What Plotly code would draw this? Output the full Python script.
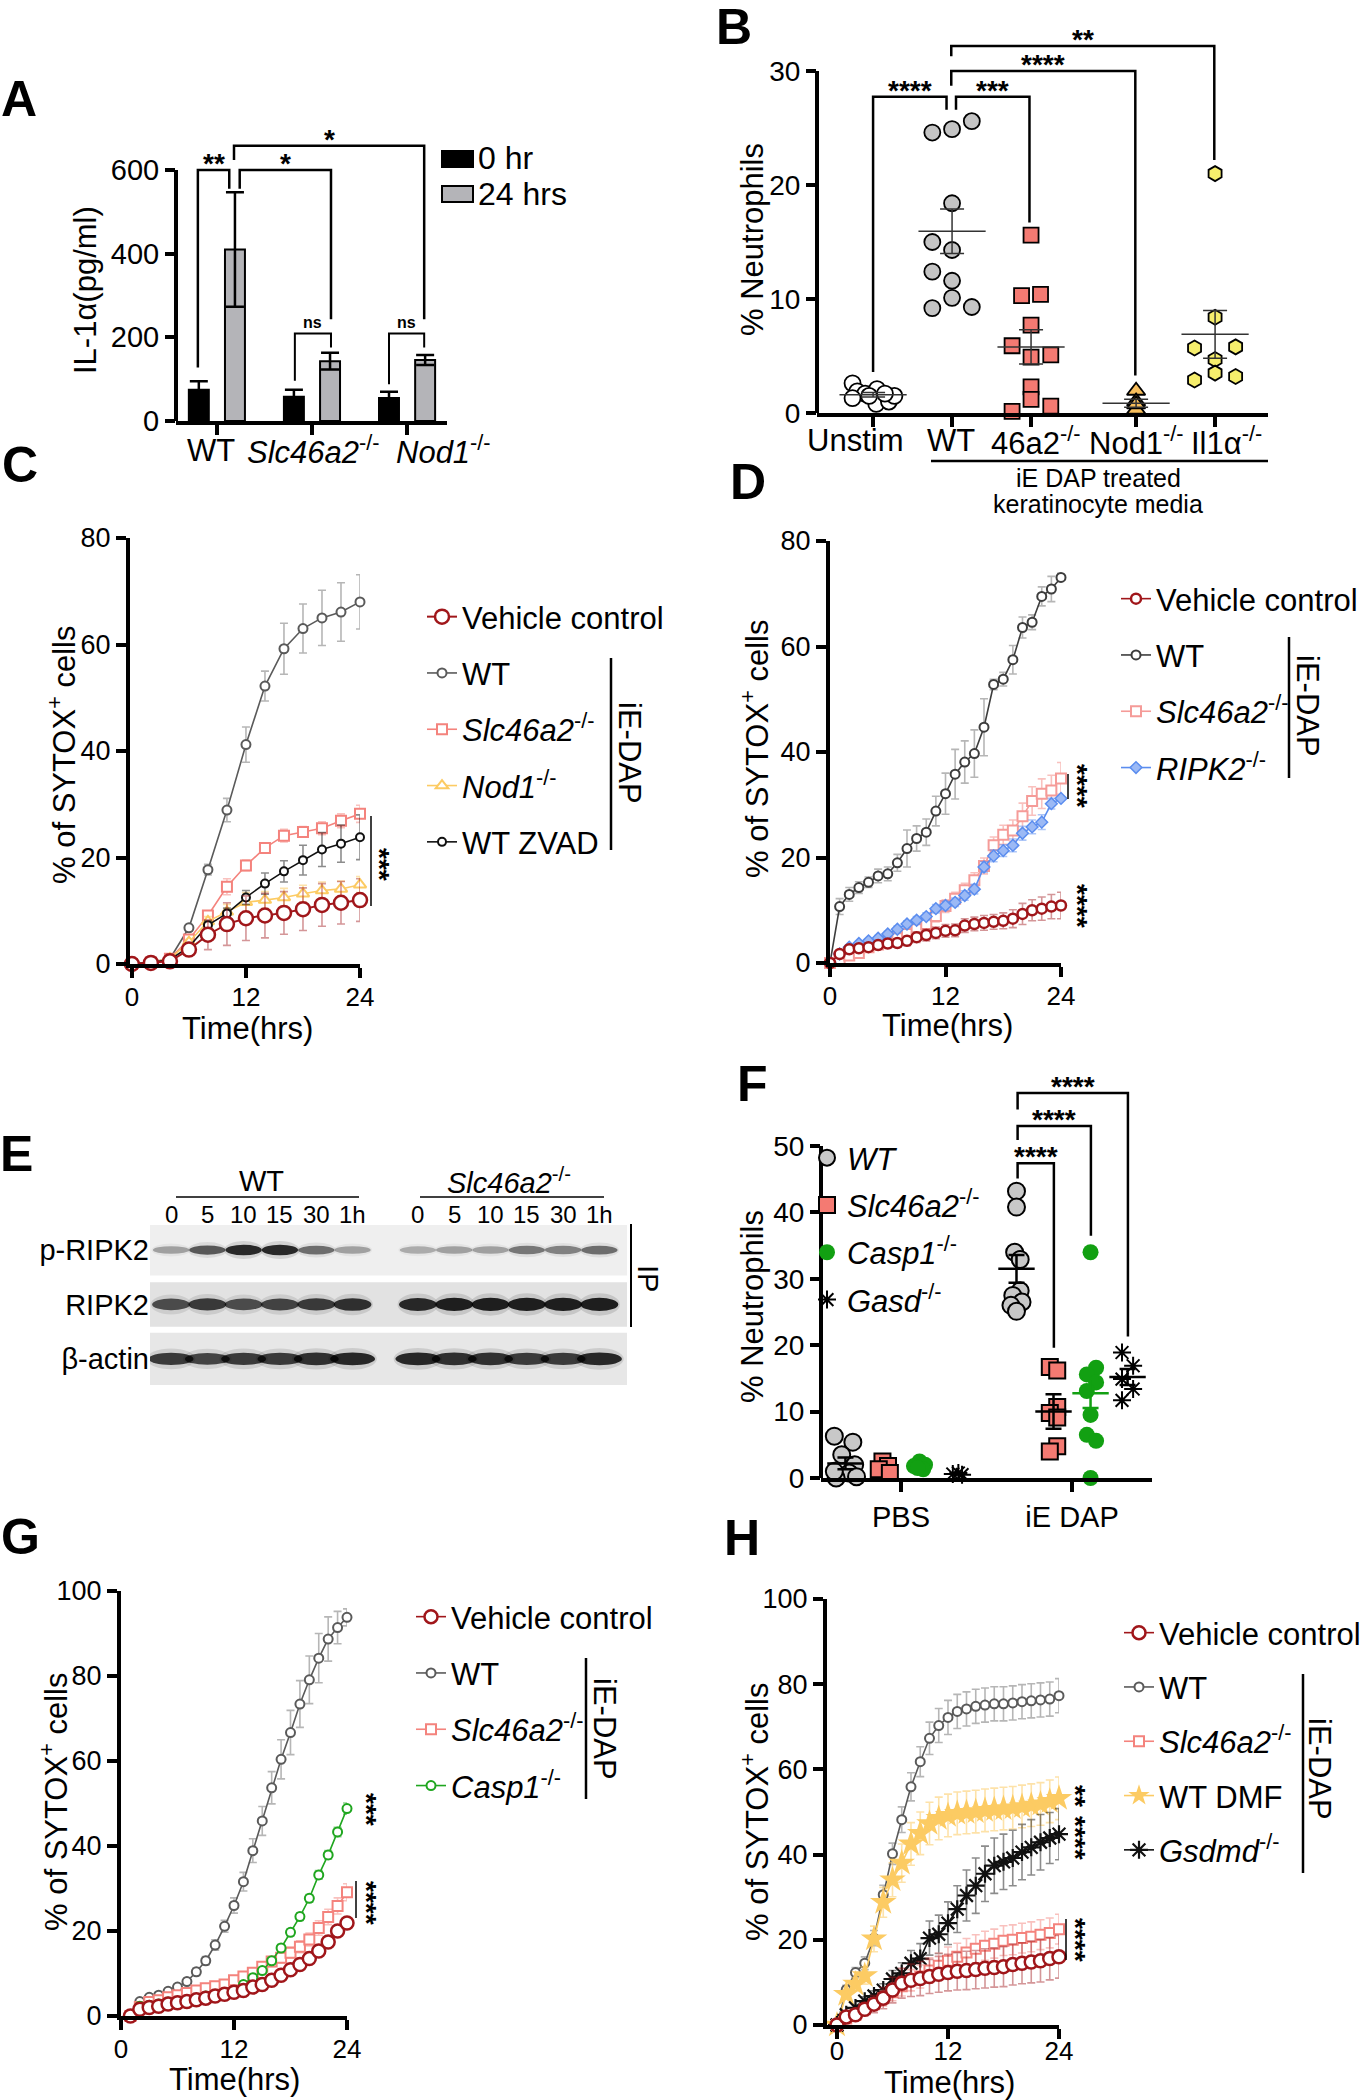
import plotly.graph_objects as go

W, H = 1360, 2100
FONT = "Liberation Sans, Arial, Helvetica, sans-serif"

# ======================= DATA =======================
# ---- Panel A : IL-1a ELISA ----
A_groups = ["WT", "<i>Slc46a2</i><sup>-/-</sup>", "<i>Nod1</i><sup>-/-</sup>"]
A_0hr = [75, 58, 55]
A_0hr_err = [20, 17, 15]
A_24hr = [410, 143, 146]
A_24hr_err = [137, 20, 12]

# ---- Panel B : % neutrophils ----
B_labels = ["Unstim", "WT", "46a2<sup>-/-</sup>", "Nod1<sup>-/-</sup>", "Il1\u03b1<sup>-/-</sup>"]
B_unstim = [2.6, 1.9, 1.7, 1.4, 2.1, 1.3, 0.8, 1.0, 1.5, 1.7, 1.5]
B_wt = [24.6, 24.9, 25.6, 18.4, 15.0, 14.3, 12.4, 11.6, 10.1, 9.2, 9.3]
B_46a2 = [15.6, 10.3, 10.4, 7.7, 5.9, 5.1, 4.9, 2.3, 1.2, 0.15, 0.6]
B_nod1 = [1.95, 1.0, 0.3, 0.75]
B_il1a = [21.0, 8.4, 5.7, 5.8, 4.7, 3.5, 2.9, 3.2]
B_mean = [1.6, 15.95, 5.8, 0.85, 6.9]
B_sem = [0.2, 1.95, 1.5, 0.35, 2.1]

# ---- Panel C : SYTOX time course (2 h steps) ----
C_t = [0, 2, 4, 6, 8, 10, 12, 14, 16, 18, 20, 22, 24]
C_vehicle = [0, 0.2, 0.5, 2.7, 5.5, 7.5, 8.6, 9.1, 9.6, 10.3, 11.1, 11.5, 12.0]
C_vehicle_err = [0.2, 0.3, 0.4, 1.2, 2.8, 4.0, 4.2, 4.2, 4.0, 4.0, 4.0, 4.0, 4.0]
C_wt = [0, 0.3, 1.0, 6.8, 17.7, 28.9, 41.2, 52.2, 59.2, 63.0, 65.0, 66.1, 68.0]
C_wt_err = [0.2, 0.3, 0.4, 0.6, 1.0, 2.2, 3.3, 2.8, 4.8, 4.6, 5.2, 5.5, 5.1]
C_slc = [0, 0.3, 1.0, 4.6, 9.1, 14.5, 18.5, 21.8, 24.1, 24.8, 25.5, 26.9, 28.2]
C_slc_err = [0.2, 0.2, 0.3, 0.6, 0.9, 1.5, 1.0, 0.9, 1.2, 1.0, 1.2, 1.3, 1.6]
C_nod1 = [0, 0.3, 1.0, 4.1, 8.0, 9.8, 11.6, 12.0, 12.5, 13.2, 13.8, 14.1, 14.9]
C_nod1_err = [0.2, 0.2, 0.3, 0.5, 0.9, 1.4, 1.8, 1.6, 1.7, 1.6, 1.6, 1.5, 1.5]
C_zvad = [0, 0.3, 0.8, 3.2, 7.3, 9.5, 12.5, 15.1, 17.4, 19.5, 21.5, 22.6, 23.8]
C_zvad_err = [0.2, 0.2, 0.3, 0.5, 0.8, 1.0, 1.3, 2.0, 2.0, 2.8, 3.2, 3.5, 4.2]

# ---- Panel D : SYTOX time course (hourly) ----
D_t = list(range(0, 25))
D_vehicle = [0, 1.7, 2.6, 2.8, 3.0, 3.4, 3.7, 3.8, 4.2, 4.9, 5.3, 5.7, 6.1, 6.2, 7.1, 7.4, 7.6, 7.8, 8.0, 8.4, 9.3, 10.0, 10.3, 10.7, 10.9]
D_vehicle_err = [0, 0.5, 0.6, 0.6, 0.7, 0.7, 0.8, 0.8, 0.9, 1.0, 1.1, 1.1, 1.2, 1.2, 1.3, 1.3, 1.4, 1.4, 1.5, 1.7, 2.0, 2.0, 2.2, 2.3, 2.5]
D_wt = [0, 10.7, 13.0, 14.3, 15.3, 16.5, 16.9, 19.0, 21.7, 23.6, 24.8, 28.8, 32.1, 35.8, 38.1, 39.7, 44.7, 52.8, 53.8, 57.5, 63.6, 64.6, 69.5, 70.9, 73.1]
D_wt_err = [0, 1.5, 1.3, 1.1, 1.0, 1.3, 1.3, 1.6, 3.5, 2.4, 2.5, 2.8, 3.9, 4.7, 4.0, 4.5, 5.4, 1.0, 1.3, 2.7, 2.0, 1.4, 1.8, 2.4, 0.8]
D_slc = [0, 0.7, 1.4, 1.9, 3.0, 3.5, 4.0, 4.7, 5.5, 6.4, 7.4, 8.9, 10.8, 12.2, 13.8, 15.7, 18.4, 22.3, 24.3, 25.1, 27.8, 30.7, 32.1, 32.7, 35.0]
D_slc_err = [0, 0.5, 0.6, 0.6, 0.6, 0.6, 0.7, 0.7, 0.8, 0.9, 1.0, 1.1, 1.2, 1.2, 1.3, 1.4, 1.5, 1.6, 1.8, 2.0, 2.5, 2.7, 2.8, 2.9, 3.0]
D_ripk2 = [0, 1.7, 3.0, 3.7, 4.2, 4.7, 5.5, 6.4, 7.4, 8.1, 8.8, 10.3, 10.9, 11.5, 12.8, 14.0, 18.2, 20.3, 21.3, 22.3, 24.6, 25.8, 26.7, 30.2, 31.2]
D_ripk2_err = [0, 0.3, 0.4, 0.4, 0.4, 0.5, 0.5, 0.6, 0.6, 0.7, 0.7, 0.8, 0.8, 0.8, 0.9, 0.9, 1.0, 1.1, 1.1, 1.2, 1.3, 1.3, 1.4, 1.0, 0.5]

# ---- Panel E : western blot band intensities (0 = none, 1 = saturated) ----
E_lane_labels = ["0", "5", "10", "15", "30", "1h", "0", "5", "10", "15", "30", "1h"]
E_rows = ["\u03b2-actin", "RIPK2", "p-RIPK2"]
E_pRIPK2 = [0.35, 0.70, 0.95, 0.95, 0.60, 0.35, 0.30, 0.35, 0.35, 0.55, 0.50, 0.60]
E_RIPK2 = [0.75, 0.85, 0.75, 0.80, 0.85, 0.90, 0.95, 1.00, 1.00, 1.00, 1.00, 1.00]
E_actin = [0.85, 0.80, 0.85, 0.85, 0.90, 0.95, 0.95, 0.90, 0.90, 0.85, 0.85, 0.95]

# ---- Panel F : % neutrophils in vivo ----
F_cats = ["PBS", "iE DAP"]
F_pbs_wt = [6.3, 5.4, 3.5, 2.0, 0.75, 0.0, 0.2, 1.0]
F_pbs_slc = [2.5, 1.8, 1.3, 0.75]
F_pbs_casp = [2.5, 2.0, 1.8, 1.3, 1.5]
F_pbs_gasd = [0.6, 0.75, 0.5]
F_ie_wt = [43.2, 40.8, 34.0, 32.9, 28.2, 27.5, 26.5, 26.0, 25.1]
F_ie_slc = [16.7, 16.2, 10.7, 9.8, 9.1, 4.8, 4.0]
F_ie_casp = [34.0, 16.6, 15.6, 14.4, 13.1, 9.5, 6.5, 5.6, 0.0]
F_ie_gasd = [18.9, 16.9, 14.9, 13.4, 11.7]
F_mean = {"pbs_wt": 2.2, "ie_wt": 31.5, "ie_slc": 10.0, "ie_casp": 12.75, "ie_gasd": 15.2}
F_sem = {"pbs_wt": 0.9, "ie_wt": 2.1, "ie_slc": 2.6, "ie_casp": 2.2, "ie_gasd": 1.2}

# ---- Panel G : SYTOX time course (t = 1..24 h) ----
G_t = list(range(1, 25))
G_vehicle = [0, 1.6, 2.0, 2.3, 2.8, 3.1, 3.4, 3.8, 4.2, 4.7, 5.1, 5.6, 6.0, 6.8, 7.4, 8.4, 9.6, 10.9, 12.1, 13.5, 15.3, 17.4, 20.0, 21.9]
G_vehicle_err = [0.2, 0.3, 0.3, 0.3, 0.3, 0.4, 0.4, 0.4, 0.4, 0.4, 0.5, 0.5, 0.5, 0.5, 0.6, 0.6, 0.6, 0.7, 0.7, 0.8, 0.8, 0.9, 0.9, 1.0]
G_wt = [0, 3.4, 4.4, 4.9, 5.8, 6.8, 8.1, 10.4, 13.0, 16.7, 21.1, 26.0, 31.6, 38.9, 45.9, 53.7, 60.4, 66.7, 73.4, 79.1, 84.2, 88.7, 91.4, 93.8]
G_wt_err = [0.2, 0.5, 0.6, 0.6, 0.7, 0.7, 0.8, 0.9, 1.0, 1.2, 1.4, 1.8, 2.2, 2.8, 3.4, 3.8, 4.6, 5.2, 5.5, 5.6, 5.8, 5.2, 3.8, 2.0]
G_slc = [0, 2.1, 3.3, 3.7, 4.4, 4.9, 5.4, 6.0, 6.5, 7.0, 7.4, 8.4, 9.3, 10.2, 11.6, 12.8, 13.7, 14.9, 16.3, 18.0, 20.7, 23.3, 25.9, 29.1]
G_slc_err = [0.2, 0.4, 0.5, 0.5, 0.6, 0.6, 0.7, 0.7, 0.8, 0.8, 0.9, 0.9, 1.0, 1.0, 1.1, 1.2, 1.2, 1.3, 1.4, 1.5, 1.7, 1.8, 1.9, 2.0]
G_casp1 = [0, 2.3, 2.5, 2.8, 3.3, 3.4, 3.7, 4.2, 4.7, 4.8, 5.1, 5.9, 7.4, 9.0, 10.7, 13.0, 16.0, 19.7, 23.4, 27.7, 33.2, 37.9, 43.3, 48.8]
G_casp1_err = [0.2, 0.3, 0.3, 0.3, 0.4, 0.4, 0.4, 0.4, 0.5, 0.5, 0.5, 0.6, 0.6, 0.6, 0.7, 0.7, 0.8, 0.8, 0.9, 0.9, 1.0, 1.0, 1.1, 1.3]

# ---- Panel H : SYTOX time course (hourly) ----
H_t = list(range(0, 25))
H_vehicle = [0, 1.9, 2.4, 3.7, 4.9, 6.3, 8.2, 9.8, 10.5, 10.9, 11.4, 11.9, 12.3, 12.6, 12.8, 13.0, 13.3, 13.5, 13.7, 14.2, 14.5, 14.8, 15.1, 15.6, 16.0]
H_vehicle_err = [0, 1.0, 1.2, 1.5, 2.0, 2.5, 3.0, 3.5, 3.8, 4.0, 4.0, 4.2, 4.3, 4.4, 4.5, 4.5, 4.6, 4.6, 4.7, 4.8, 4.8, 4.9, 5.0, 5.0, 5.0]
H_wt = [0, 8.3, 12.3, 14.5, 20.4, 30.6, 40.2, 48.2, 55.9, 61.8, 67.3, 70.3, 72.2, 73.6, 74.2, 74.8, 75.1, 75.4, 75.4, 75.6, 75.9, 76.1, 76.3, 76.5, 77.3]
H_wt_err = [0, 1.0, 1.2, 1.5, 1.8, 2.2, 2.5, 3.0, 3.3, 3.5, 3.8, 4.0, 4.0, 4.0, 4.0, 4.0, 4.0, 4.0, 4.0, 4.0, 4.0, 4.0, 4.0, 4.0, 4.0]
H_slc = [0, 1.5, 2.4, 3.7, 4.9, 6.3, 7.7, 9.1, 10.5, 11.4, 12.8, 13.9, 15.1, 16.0, 17.0, 17.9, 18.6, 19.1, 19.8, 20.0, 20.4, 20.7, 21.2, 21.6, 22.5]
H_slc_err = [0, 0.8, 1.0, 1.2, 1.5, 1.8, 2.0, 2.3, 2.5, 2.7, 3.0, 3.0, 3.2, 3.2, 3.3, 3.3, 3.4, 3.4, 3.5, 3.5, 3.5, 3.5, 3.5, 3.5, 3.5]
H_dmf = [0, 7.2, 9.6, 11.6, 20.2, 28.8, 34.1, 38.0, 42.5, 45.0, 47.3, 48.5, 49.2, 49.7, 49.9, 50.1, 50.4, 50.6, 50.8, 51.0, 51.3, 51.6, 51.9, 52.5, 53.2]
H_dmf_err = [0, 1.0, 1.5, 2.0, 3.0, 3.5, 4.0, 4.5, 5.0, 5.0, 5.0, 5.0, 5.0, 5.0, 5.0, 5.0, 5.0, 5.0, 5.0, 5.0, 5.0, 5.0, 5.0, 5.0, 5.0]
H_gsdmd = [0, 2.4, 4.0, 5.6, 6.8, 8.2, 10.8, 12.1, 14.5, 15.6, 20.4, 21.3, 23.9, 27.2, 30.4, 32.7, 35.5, 37.4, 38.3, 39.2, 40.6, 41.7, 42.9, 43.9, 44.8]
H_gsdmd_err = [0, 0.5, 0.8, 1.0, 1.2, 1.5, 2.0, 2.5, 3.0, 3.5, 4.0, 4.5, 5.0, 5.5, 6.0, 6.5, 6.5, 6.5, 6.5, 6.5, 6.5, 6.5, 6.5, 6.0, 6.0]

# ======================= STYLE / LAYOUT HELPERS =======================
RED = "#a0161a"
RED_E = "rgba(160,22,26,0.45)"
GRAY = "#5a5a5a"
GRAY_E = "rgba(110,110,110,0.5)"
SALMON = "#f4837d"
SALMON_E = "rgba(244,131,125,0.5)"
YELLOW = "#fccb63"
YELLOW_E = "rgba(252,203,99,0.55)"
BLUE = "#5b8def"
BLUE_E = "rgba(91,141,239,0.5)"
GREEN = "#1fa61f"
GREEN_E = "rgba(31,166,31,0.5)"
BLACK = "#111111"
BLACK_E = "rgba(0,0,0,0.45)"


def fx(p):
    return p / W


def fy(p):
    return 1 - p / H


fig = go.Figure()
LAY = {}
shapes = []
annotations = []

BASE_AX = dict(showgrid=False, zeroline=False, fixedrange=True, ticks="outside",
               ticklen=10, tickwidth=4, tickcolor="black", showline=True, linewidth=4,
               linecolor="black", tickangle=0, automargin=False)


def axes(n, x0, x1, ybot, ytop, xr, yr, xkw=None, ykw=None, tick=27):
    xn = "xaxis" if n == 1 else "xaxis%d" % n
    yn = "yaxis" if n == 1 else "yaxis%d" % n
    xa = dict(BASE_AX, domain=[fx(x0), fx(x1)], range=xr,
              anchor="y" if n == 1 else "y%d" % n,
              tickfont=dict(family=FONT, size=tick, color="black"))
    ya = dict(BASE_AX, domain=[fy(ybot), fy(ytop)], range=yr,
              anchor="x" if n == 1 else "x%d" % n,
              tickfont=dict(family=FONT, size=tick, color="black"))
    xa.update(xkw or {})
    ya.update(ykw or {})
    LAY[xn] = xa
    LAY[yn] = ya


def ref(n):
    return ("x", "y") if n == 1 else ("x%d" % n, "y%d" % n)


def txt(x, y, s, size=29, angle=0, xanchor="center", yanchor="middle", bold=False, color="black"):
    annotations.append(dict(x=fx(x), y=fy(y), xref="paper", yref="paper", text=s,
                            showarrow=False, textangle=angle, xanchor=xanchor, yanchor=yanchor,
                            font=dict(family=FONT, size=size, color=color,
                                      weight="bold" if bold else "normal")))


def xlab(n, xval, ypx, s, size=31):
    xr, _ = ref(n)
    annotations.append(dict(x=xval, y=fy(ypx), xref=xr, yref="paper", text=s, showarrow=False,
                            xanchor="center", yanchor="middle",
                            font=dict(family=FONT, size=size, color="black")))


def pline(x0, y0, x1, y1, w=2.5, color="black"):
    shapes.append(dict(type="line", xref="paper", yref="paper", x0=fx(x0), y0=fy(y0),
                       x1=fx(x1), y1=fy(y1), line=dict(color=color, width=w)))


def yline(n, ymax_frac):
    xr, yr = ref(n)
    shapes.append(dict(type="line", xref=xr + " domain", yref=yr + " domain", x0=0, x1=0,
                       y0=0, y1=ymax_frac, line=dict(color="black", width=4)))


def bracket(n, xa, ya_low, xb, yb_low, ytop, label, size=28, shift=-11, lw=2.5):
    xr, yr = ref(n)
    shapes.append(dict(type="path", xref=xr, yref=yr,
                       path="M %s,%s L %s,%s L %s,%s L %s,%s" % (xa, ya_low, xa, ytop, xb, ytop, xb, yb_low),
                       line=dict(color="black", width=lw)))
    annotations.append(dict(x=(xa + xb) / 2, y=ytop, xref=xr, yref=yr, text=label, showarrow=False,
                            yanchor="bottom", yshift=shift,
                            font=dict(family=FONT, size=size, color="black", weight="bold")))


def tc(n, t, y, err, name, color, ecolor, symbol, size, lw, mlw, legend, rank, fill="white"):
    xr, yr = ref(n)
    fig.add_trace(go.Scatter(
        x=t, y=y, mode="lines+markers", name=name, xaxis=xr, yaxis=yr,
        line=dict(color=color, width=lw),
        marker=dict(symbol=symbol, size=size, color=fill, line=dict(color=color, width=mlw)),
        error_y=dict(type="data", array=err, color=ecolor, thickness=1.6, width=4),
        legend=legend, legendrank=rank, legendgroup=legend + name, cliponaxis=False))


TF26 = dict(family=FONT, size=26, color="black")

# ======================= PANEL A =======================
A_top = 700
axes(1, 176, 447, 421, 421 - A_top * (251 / 600), [-0.43, 2.42], [0, A_top],
     xkw=dict(tickvals=[0, 1, 2], showticklabels=False),
     ykw=dict(showline=False, tickvals=[0, 200, 400, 600]), tick=29)
yline(1, 600 / A_top)
A_label_x = [-0.06, 1.02, 2.38]
for xv, s in zip(A_label_x, A_groups):
    xlab(1, xv, 450, s, size=31)
A_off = 0.19
fig.add_trace(go.Bar(x=[i - A_off for i in range(3)], y=A_0hr, width=0.21, name="0 hr",
                     marker=dict(color="black", line=dict(color="black", width=2)),
                     error_y=dict(type="data", array=A_0hr_err, color="black", thickness=2.5, width=9),
                     xaxis="x", yaxis="y", showlegend=False))
fig.add_trace(go.Bar(x=[i + A_off for i in range(3)], y=A_24hr, width=0.21, name="24 hrs",
                     marker=dict(color="#b4b4b8", line=dict(color="black", width=2)),
                     error_y=dict(type="data", array=A_24hr_err, color="black", thickness=2.5, width=9),
                     xaxis="x", yaxis="y", showlegend=False))
bracket(1, -0.2, 128, 0.13, 555, 600, "**")
bracket(1, 0.24, 555, 1.2, 243, 600, "*")
bracket(1, 0.18, 624, 2.18, 243, 658, "*")
bracket(1, 0.82, 96, 1.2, 176, 209, "ns", size=16, shift=1, lw=2)
bracket(1, 1.81, 88, 2.18, 176, 209, "ns", size=16, shift=1, lw=2)
# legend A (swatches)
shapes.append(dict(type="rect", xref="paper", yref="paper", x0=fx(442), x1=fx(473), y0=fy(167), y1=fy(151),
                   fillcolor="black", line=dict(color="black", width=2)))
shapes.append(dict(type="rect", xref="paper", yref="paper", x0=fx(442), x1=fx(473), y0=fy(202), y1=fy(186),
                   fillcolor="#b4b4b8", line=dict(color="black", width=2)))
txt(476, 158, "0 hr", size=32, xanchor="left")
txt(476, 194, "24 hrs", size=32, xanchor="left")
txt(86, 290, "IL-1\u03b1(pg/ml)", size=31, angle=-90)

# ======================= PANEL B =======================
B_pos = [0, 1, 2, 3.33, 4.33]
B_top = 34.5
B_ppu = (413 - 71) / 30
axes(2, 817, 1268, 413, 413 - B_top * B_ppu, [-0.71, 5.0], [0, B_top],
     xkw=dict(tickvals=B_pos, showticklabels=False),
     ykw=dict(showline=False, tickvals=[0, 10, 20, 30]), tick=28)
yline(2, 30 / B_top)
B_label_x = [-0.23, 0.99, 2.05, 3.34, 4.48]
for xv, s in zip(B_label_x, B_labels):
    xlab(2, xv, 441, s, size=31)
B_off_unstim = [-0.26, -0.2, -0.1, 0.0, 0.05, -0.26, 0.04, 0.2, 0.27, 0.15, -0.05]
B_off_wt = [-0.25, 0, 0.25, 0, -0.25, 0, -0.25, 0, 0, -0.25, 0.25]
B_off_46a2 = [0, -0.12, 0.12, 0, -0.24, 0.25, 0, 0, 0, -0.24, 0.25]
B_off_nod1 = [0, 0, 0, 0]
B_off_il1a = [0, 0, -0.26, 0.26, 0, 0, -0.26, 0.26]
B_series = [
    (B_unstim, B_off_unstim, "circle", "white", 16),
    (B_wt, B_off_wt, "circle", "#c4c4c4", 16),
    (B_46a2, B_off_46a2, "square", "#f47a72", 15),
    (B_nod1, B_off_nod1, "triangle-up", "#f7be5c", 16),
    (B_il1a, B_off_il1a, "hexagon", "#f6ee6c", 15),
]
for (vals, offs, sym, col, sz), p in zip(B_series, B_pos):
    fig.add_trace(go.Scatter(x=[p + o for o in offs], y=vals, mode="markers", xaxis="x2", yaxis="y2",
                             marker=dict(symbol=sym, size=sz, color=col, line=dict(color="black", width=1.8)),
                             showlegend=False, cliponaxis=False))
fig.add_trace(go.Scatter(x=B_pos, y=B_mean, mode="markers", xaxis="x2", yaxis="y2",
                         marker=dict(symbol="line-ew", size=48, line=dict(color="#333333", width=1.5)),
                         error_y=dict(type="data", array=B_sem, color="#333333", thickness=1.5, width=12),
                         showlegend=False, cliponaxis=False))
bracket(2, 0, 3.6, 0.93, 26.6, 27.75, "****")
bracket(2, 1.05, 26.6, 1.98, 16.7, 27.75, "***")
bracket(2, 0.99, 28.7, 3.32, 3.3, 30.0, "****")
bracket(2, 0.99, 31.3, 4.32, 22.2, 32.2, "**")
pline(931, 461, 1268, 461, w=2.5)
txt(1098, 478, "iE DAP treated", size=25)
txt(1098, 504, "keratinocyte media", size=25)
txt(752, 240, "% Neutrophils", size=31, angle=-90)

# ======================= PANEL C =======================
axes(3, 130, 360, 964, 538, [-0.2, 24], [0, 80],
     xkw=dict(tickvals=[0, 12, 24], ticklabelstandoff=-3, tickfont=TF26),
     ykw=dict(tickvals=[0, 20, 40, 60, 80]))
tc(3, C_t, C_wt, C_wt_err, "WT", GRAY, GRAY_E, "circle", 9, 1.6, 2, "legend2", 2)
tc(3, C_t, C_slc, C_slc_err, "<i>Slc46a2</i><sup>-/-</sup>", SALMON, SALMON_E, "square", 10, 1.6, 2, "legend2", 3)
tc(3, C_t, C_nod1, C_nod1_err, "<i>Nod1</i><sup>-/-</sup>", YELLOW, YELLOW_E, "triangle-up", 11, 1.6, 2, "legend2", 4)
tc(3, C_t, C_zvad, C_zvad_err, "WT ZVAD", BLACK, BLACK_E, "circle", 8, 1.6, 2, "legend2", 5)
tc(3, C_t, C_vehicle, C_vehicle_err, "Vehicle control", RED, RED_E, "circle", 14, 2, 2.5, "legend2", 1)

# ======================= PANEL D =======================
axes(4, 830, 1061, 963, 541, [0, 24], [0, 80],
     xkw=dict(tickvals=[0, 12, 24], ticklabelstandoff=-3, tickfont=TF26),
     ykw=dict(tickvals=[0, 20, 40, 60, 80]))
tc(4, D_t, D_wt, D_wt_err, "WT", "#3d3d3d", GRAY_E, "circle", 9, 1.6, 2, "legend3", 2)
tc(4, D_t, D_slc, D_slc_err, "<i>Slc46a2</i><sup>-/-</sup>", "#f59b98", SALMON_E, "square", 10, 1.6, 2, "legend3", 3)
tc(4, D_t, D_ripk2, D_ripk2_err, "<i>RIPK2</i><sup>-/-</sup>", BLUE, BLUE_E, "diamond", 9, 1.6, 1.5, "legend3", 4, fill="#9bb9f5")
tc(4, D_t, D_vehicle, D_vehicle_err, "Vehicle control", RED, RED_E, "circle", 10, 1.6, 2.5, "legend3", 1)

# ======================= PANEL E (western blot) =======================
E_pos = [0, 1, 2, 3, 4, 5, 6.8, 7.8, 8.8, 9.8, 10.8, 11.8]
E_xr = [-0.58, 12.56]
axes(5, 150, 627, 1385, 1225, E_xr, [-0.48, 2.46],
     xkw=dict(showline=False, ticks="", showticklabels=False),
     ykw=dict(showline=False, ticks="", tickvals=[0, 1, 2], ticktext=E_rows,
              tickfont=dict(family=FONT, size=29, color="black")))
E_bg = [(2, 0.47, "#efefef"), (1, 0.41, "#e2e2e2"), (0, 0.48, "#e7e7e7")]
for r, hh, col in E_bg:
    shapes.append(dict(type="rect", xref="x5", yref="y5", x0=E_xr[0], x1=E_xr[1], y0=r - hh, y1=r + hh,
                       fillcolor=col, line=dict(width=0), layer="below"))


def band(x, r, inten, half_w, base_h):
    hh = base_h * (0.6 + 0.5 * inten)
    shapes.append(dict(type="circle", xref="x5", yref="y5", x0=x - half_w * 1.08, x1=x + half_w * 1.08,
                       y0=r - hh * 1.7, y1=r + hh * 1.7, fillcolor="rgba(0,0,0,%.3f)" % (0.12 * inten),
                       line=dict(width=0)))
    shapes.append(dict(type="circle", xref="x5", yref="y5", x0=x - half_w, x1=x + half_w,
                       y0=r - hh, y1=r + hh, fillcolor="rgba(0,0,0,%.3f)" % (0.85 * inten),
                       line=dict(width=0)))


for x, v in zip(E_pos, E_pRIPK2):
    band(x, 2.0, v, 0.5, 0.09)
for x, v in zip(E_pos, E_RIPK2):
    band(x, 1.0, v, 0.52, 0.11)
for x, v in zip(E_pos, E_actin):
    band(x, 0.0, v, 0.62, 0.11)
for x, s in zip(E_pos, E_lane_labels):
    annotations.append(dict(x=x, y=fy(1214), xref="x5", yref="paper", text=s, showarrow=False,
                            font=dict(family=FONT, size=24, color="black")))
annotations.append(dict(x=2.5, y=fy(1181), xref="x5", yref="paper", text="WT", showarrow=False,
                        font=dict(family=FONT, size=29, color="black")))
annotations.append(dict(x=9.3, y=fy(1181), xref="x5", yref="paper", text="<i>Slc46a2</i><sup>-/-</sup>",
                        showarrow=False, font=dict(family=FONT, size=29, color="black")))
pline(176, 1197, 359, 1197, w=1.5)
pline(420, 1197, 604, 1197, w=1.5)
pline(631, 1224, 631, 1327, w=2)
txt(648, 1278, "IP", size=29, angle=90)

# ======================= PANEL F =======================
F_pos = [0, 4.62]
F_sub = [-1.5, -0.5, 0.5, 1.5]
F_top = 62
F_ppu = (1478 - 1146) / 50
axes(6, 821, 1152, 1478, 1478 - F_top * F_ppu, [-2.16, 6.78], [0, F_top],
     xkw=dict(tickvals=F_pos, ticktext=F_cats, tickfont=dict(family=FONT, size=29, color="black")),
     ykw=dict(showline=False, tickvals=[0, 10, 20, 30, 40, 50]), tick=28)
yline(6, 50 / F_top)
F_groups = [
    (F_pbs_wt, F_pos[0] + F_sub[0], [-0.3, 0.2, -0.1, 0.25, 0.1, -0.25, 0.3, -0.3], 0),
    (F_pbs_slc, F_pos[0] + F_sub[1], [0, 0.15, -0.1, 0.2], 1),
    (F_pbs_casp, F_pos[0] + F_sub[2], [0, 0.15, -0.15, 0.1, -0.05], 2),
    (F_pbs_gasd, F_pos[0] + F_sub[3], [-0.1, 0.05, 0.15], 3),
    (F_ie_wt, F_pos[1] + F_sub[0], [0, 0, -0.05, 0.1, 0.1, -0.1, 0.15, -0.15, 0], 0),
    (F_ie_slc, F_pos[1] + F_sub[1], [-0.1, 0.1, 0.1, -0.1, 0.1, 0.1, -0.1], 1),
    (F_ie_casp, F_pos[1] + F_sub[2], [0, 0.15, -0.1, 0.15, -0.1, 0, -0.1, 0.15, 0], 2),
    (F_ie_gasd, F_pos[1] + F_sub[3], [-0.15, 0.15, -0.15, 0.15, -0.15], 3),
]
F_style = [
    dict(symbol="circle", size=17, color="#c8c8c8", line=dict(color="black", width=2)),
    dict(symbol="square", size=16, color="#f47a72", line=dict(color="black", width=2)),
    dict(symbol="circle", size=16, color="#12a012", line=dict(color="#12a012", width=0)),
    dict(symbol="asterisk-open", size=15, color="black", line=dict(color="black", width=2)),
]
F_names = ["<i>WT</i>", "<i>Slc46a2</i><sup>-/-</sup>", "<i>Casp1</i><sup>-/-</sup>", "<i>Gasd</i><sup>-/-</sup>"]
shown = set()
for vals, c, offs, k in F_groups:
    fig.add_trace(go.Scatter(x=[c + o for o in offs], y=vals, mode="markers", xaxis="x6", yaxis="y6",
                             marker=F_style[k], name=F_names[k], legend="legend4", legendrank=k,
                             legendgroup="F%d" % k, showlegend=(k not in shown), cliponaxis=False))
    shown.add(k)
F_mean_pos = {"pbs_wt": F_pos[0] + F_sub[0], "ie_wt": F_pos[1] + F_sub[0], "ie_slc": F_pos[1] + F_sub[1],
              "ie_casp": F_pos[1] + F_sub[2], "ie_gasd": F_pos[1] + F_sub[3]}
F_mean_col = {"pbs_wt": "black", "ie_wt": "black", "ie_slc": "black", "ie_casp": "#12a012", "ie_gasd": "black"}
for k in F_mean:
    fig.add_trace(go.Scatter(x=[F_mean_pos[k]], y=[F_mean[k]], mode="markers", xaxis="x6", yaxis="y6",
                             marker=dict(symbol="line-ew", size=26, line=dict(color=F_mean_col[k], width=2.5)),
                             error_y=dict(type="data", array=[F_sem[k]], color=F_mean_col[k], thickness=2.5, width=8),
                             showlegend=False, cliponaxis=False))
bracket(6, 3.15, 45.1, 4.13, 19.6, 47.4, "****")
bracket(6, 3.15, 50.9, 5.13, 36.5, 53.0, "****")
bracket(6, 3.15, 55.5, 6.13, 21.3, 58.0, "****")
txt(752, 1307, "% Neutrophils", size=31, angle=-90)

# ======================= PANEL G =======================
axes(7, 121, 347, 2016, 1591, [0, 24], [0, 100],
     xkw=dict(tickvals=[0, 12, 24], ticklabelstandoff=-3, tickfont=TF26),
     ykw=dict(tickvals=[0, 20, 40, 60, 80, 100]))
tc(7, G_t, G_wt, G_wt_err, "WT", GRAY, GRAY_E, "circle", 9, 1.6, 2, "legend5", 2)
tc(7, G_t, G_slc, G_slc_err, "<i>Slc46a2</i><sup>-/-</sup>", SALMON, SALMON_E, "square", 10, 1.6, 2, "legend5", 3)
tc(7, G_t, G_casp1, G_casp1_err, "<i>Casp1</i><sup>-/-</sup>", GREEN, GREEN_E, "circle", 9, 1.6, 2, "legend5", 4)
tc(7, G_t, G_vehicle, G_vehicle_err, "Vehicle control", RED, RED_E, "circle", 13, 1.6, 2.5, "legend5", 1)

# ======================= PANEL H =======================
axes(8, 827, 1059, 2025, 1599, [-1.08, 24], [0, 100],
     xkw=dict(tickvals=[0, 12, 24], ticklabelstandoff=-10, tickfont=TF26),
     ykw=dict(tickvals=[0, 20, 40, 60, 80, 100]))
tc(8, H_t, H_wt, H_wt_err, "WT", GRAY, GRAY_E, "circle", 9, 1.6, 2, "legend6", 2)
tc(8, H_t, H_dmf, H_dmf_err, "WT DMF", YELLOW, YELLOW_E, "star", 20, 1.6, 0, "legend6", 4, fill=YELLOW)
tc(8, H_t, H_gsdmd, H_gsdmd_err, "<i>Gsdmd</i><sup>-/-</sup>", BLACK, BLACK_E, "asterisk-open", 15, 1.6, 2.2, "legend6", 5, fill=BLACK)
tc(8, H_t, H_slc, H_slc_err, "<i>Slc46a2</i><sup>-/-</sup>", SALMON, SALMON_E, "square", 10, 1.6, 2, "legend6", 3)
tc(8, H_t, H_vehicle, H_vehicle_err, "Vehicle control", RED, RED_E, "circle", 13, 1.6, 2.5, "legend6", 1)

# ======================= TEXT: titles, letters, significance =======================
SYT = "% of SYTOX<sup>+</sup> cells"
for x, y in [(62, 755), (755, 749), (54, 1802), (755, 1812)]:
    txt(x, y, SYT, size=31, angle=-90)
for x, y in [(247, 1028), (947, 1025), (234, 2079), (949, 2082)]:
    txt(x, y, "Time(hrs)", size=31)
for s, x, y in [("A", 19, 99), ("B", 734, 27), ("C", 20, 465), ("D", 748, 482), ("E", 16, 1154),
                ("F", 752, 1084), ("G", 20, 1537), ("H", 742, 1538)]:
    txt(x, y, s, size=50, bold=True)

# iE-DAP group brackets
for x, y0, y1, tx, ty in [(611, 658, 850, 629, 753), (1289, 637, 778, 1307, 706),
                          (586, 1658, 1799, 605, 1729), (1303, 1674, 1873, 1320, 1769)]:
    pline(x, y0, x, y1, w=2.5)
    txt(tx, ty, "iE-DAP", size=31, angle=90)

# significance marks on time courses
pline(371, 816, 371, 906, w=1.5)
txt(380, 864, "***", size=28, angle=90, bold=True)
pline(1068, 774, 1068, 799, w=1.5)
txt(1078, 786, "****", size=28, angle=90, bold=True)
txt(1078, 906, "****", size=28, angle=90, bold=True)
txt(367, 1809, "***", size=28, angle=90, bold=True)
pline(356, 1881, 356, 1918, w=1.5)
txt(367, 1903, "****", size=28, angle=90, bold=True)
txt(1076, 1796, "**", size=28, angle=90, bold=True)
txt(1076, 1838, "****", size=28, angle=90, bold=True)
pline(1066, 1919, 1066, 1960, w=1.5)
txt(1076, 1940, "****", size=28, angle=90, bold=True)


# ======================= LEGENDS =======================
def legend_cfg(xpx, ypx, gap, size=31):
    return dict(x=fx(xpx), y=fy(ypx), xanchor="left", yanchor="top", bgcolor="rgba(0,0,0,0)",
                borderwidth=0, traceorder="grouped", tracegroupgap=gap,
                font=dict(family=FONT, size=size, color="black"))


LAY["legend2"] = legend_cfg(422, 590, 13)
LAY["legend3"] = legend_cfg(1116, 572, 13)
LAY["legend4"] = legend_cfg(807, 1131, 4)
LAY["legend5"] = legend_cfg(411, 1590, 13)
LAY["legend6"] = legend_cfg(1119, 1606, 11)

fig.update_layout(
    width=W, height=H, margin=dict(l=0, r=0, t=0, b=0, autoexpand=False),
    paper_bgcolor="white", plot_bgcolor="rgba(0,0,0,0)",
    font=dict(family=FONT, color="black"),
    barmode="overlay", showlegend=True,
    shapes=shapes, annotations=annotations, **LAY)

fig.write_html("out.html", config={"displayModeBar": False},
               post_script="document.body.style.margin='0px';")
